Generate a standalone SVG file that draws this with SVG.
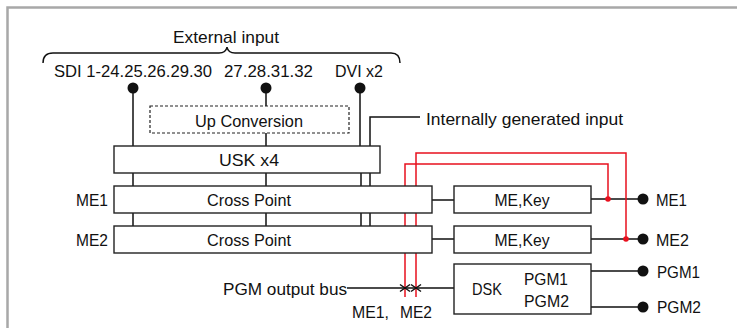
<svg xmlns="http://www.w3.org/2000/svg" width="737" height="328" viewBox="0 0 737 328">
<style>
text{font-family:"Liberation Sans",Arial,sans-serif;font-size:17px;fill:#111}
.box{fill:#fff;stroke:#222;stroke-width:1.4}
.dash{fill:#fff;stroke:#222;stroke-width:1.2;stroke-dasharray:3 2}
.ln{fill:none;stroke:#111;stroke-width:1.5}
.red{fill:none;stroke:#e8101e;stroke-width:1.5}
.c{text-anchor:middle}
</style>
<rect width="737" height="328" fill="#fff"/>
<path d="M7.5,330 V7.5 H740" fill="none" stroke="#a8a8a8" stroke-width="2.5"/>

<g id="external-input">
<text x="226" y="43" class="c" textLength="106" lengthAdjust="spacingAndGlyphs">External input</text>
<path class="ln" d="M43,63 Q43,53 53,53 H219 Q226,53 227,47 Q228,53 235,53 H391 Q400,53 400,63" stroke-width="1.4"/>
<text x="54" y="77" textLength="158" lengthAdjust="spacingAndGlyphs">SDI 1-24.25.26.29.30</text>
<text x="224" y="77" textLength="89" lengthAdjust="spacingAndGlyphs">27.28.31.32</text>
<text x="335" y="77" textLength="48" lengthAdjust="spacingAndGlyphs">DVI x2</text>
</g>

<g id="connectors">
<path class="ln" d="M133,88 V146 M266,88 V106 M266,133 V146 M360,88 V146 M370,146 V117 H420"/>
<path class="ln" d="M133,173 V186 M266,173 V186 M361,173 V186 M370,173 V186"/>
<path class="ln" d="M133,213 V226 M266,213 V226 M361,213 V226 M370,213 V226"/>
<path class="ln" d="M432,200 H454 M432,239 H454 M591,199 H643 M591,239 H643 M591,271 H643 M591,307 H643 M347,288 H454"/>
<path class="red" d="M405,297 V164 H608 V199 M416,297 V153 H626 V239"/>
<path class="ln" stroke-width="1.3" d="M400,284.5 L410,291.5 M400,291.5 L410,284.5 M411,284.5 L421,291.5 M411,291.5 L421,284.5"/>
<circle cx="608" cy="199" r="2.8" fill="#e8101e"/>
<circle cx="626" cy="239" r="2.8" fill="#e8101e"/>
<circle cx="133" cy="88" r="5.5" fill="#111"/>
<circle cx="266" cy="88" r="5.5" fill="#111"/>
<circle cx="360" cy="88" r="5.5" fill="#111"/>
<circle cx="643" cy="199" r="5.5" fill="#111"/>
<circle cx="643" cy="239" r="5.5" fill="#111"/>
<circle cx="643" cy="271" r="5.5" fill="#111"/>
<circle cx="643" cy="307" r="5.5" fill="#111"/>
</g>

<g id="up-conversion">
<rect class="dash" x="150" y="106" width="199" height="27"/>
<text x="249" y="127" class="c" textLength="108" lengthAdjust="spacingAndGlyphs">Up Conversion</text>
</g>

<g id="internal-input">
<text x="426" y="125" textLength="197" lengthAdjust="spacingAndGlyphs">Internally generated input</text>
</g>

<g id="usk">
<rect class="box" x="114" y="146" width="266" height="27"/>
<text x="249" y="166" class="c" textLength="60" lengthAdjust="spacingAndGlyphs">USK x4</text>
</g>

<g id="me1-crosspoint">
<text x="108" y="206" text-anchor="end" textLength="32" lengthAdjust="spacingAndGlyphs">ME1</text>
<rect class="box" x="114" y="186" width="318" height="27"/>
<text x="249" y="206" class="c" textLength="84" lengthAdjust="spacingAndGlyphs">Cross Point</text>
</g>

<g id="me2-crosspoint">
<text x="108" y="246" text-anchor="end" textLength="32" lengthAdjust="spacingAndGlyphs">ME2</text>
<rect class="box" x="114" y="226" width="318" height="27"/>
<text x="249" y="246" class="c" textLength="84" lengthAdjust="spacingAndGlyphs">Cross Point</text>
</g>

<g id="me1-key">
<rect class="box" x="454" y="186" width="137" height="27"/>
<text x="522" y="206" class="c" textLength="55" lengthAdjust="spacingAndGlyphs">ME,Key</text>
</g>

<g id="me2-key">
<rect class="box" x="454" y="226" width="137" height="27"/>
<text x="522" y="246" class="c" textLength="55" lengthAdjust="spacingAndGlyphs">ME,Key</text>
</g>

<g id="dsk">
<rect class="box" x="454" y="264" width="137" height="50"/>
<text x="472" y="295" textLength="30" lengthAdjust="spacingAndGlyphs">DSK</text>
<text x="524" y="285" textLength="44" lengthAdjust="spacingAndGlyphs">PGM1</text>
<text x="524" y="307" textLength="45" lengthAdjust="spacingAndGlyphs">PGM2</text>
</g>

<g id="pgm-bus">
<text x="223" y="295" textLength="124" lengthAdjust="spacingAndGlyphs">PGM output bus</text>
<text x="352" y="318" textLength="37" lengthAdjust="spacingAndGlyphs">ME1,</text>
<text x="400" y="318" textLength="32" lengthAdjust="spacingAndGlyphs">ME2</text>
</g>

<g id="outputs">
<text x="656" y="206" textLength="31" lengthAdjust="spacingAndGlyphs">ME1</text>
<text x="656" y="246" textLength="33" lengthAdjust="spacingAndGlyphs">ME2</text>
<text x="657" y="278" textLength="43" lengthAdjust="spacingAndGlyphs">PGM1</text>
<text x="657" y="313" textLength="44" lengthAdjust="spacingAndGlyphs">PGM2</text>
</g>
</svg>
